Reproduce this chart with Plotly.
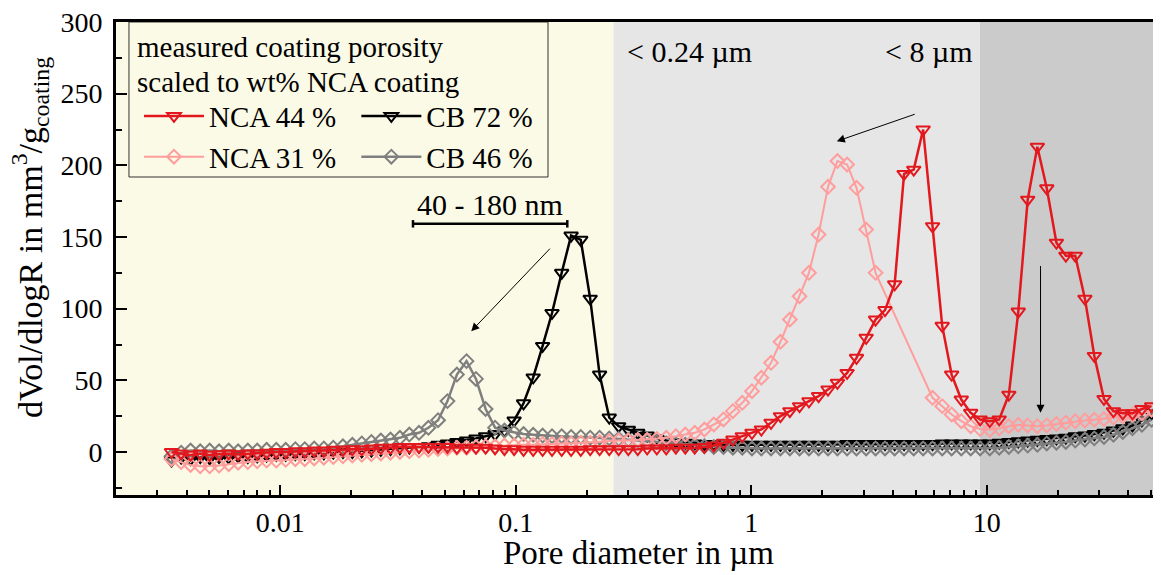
import plotly.graph_objects as go

log_d = [-2.462, -2.421, -2.381, -2.340, -2.300, -2.260, -2.219, -2.179, -2.138, -2.098,
         -2.058, -2.017, -1.977, -1.936, -1.896, -1.856, -1.815, -1.775, -1.734, -1.694,
         -1.654, -1.613, -1.573, -1.532, -1.492, -1.452, -1.411, -1.371, -1.330, -1.290,
         -1.250, -1.209, -1.169, -1.128, -1.088, -1.048, -1.007, -0.967, -0.926, -0.886,
         -0.846, -0.805, -0.765, -0.724, -0.684, -0.644, -0.603, -0.563, -0.522, -0.482,
         -0.442, -0.401, -0.361, -0.320, -0.280, -0.240, -0.199, -0.159, -0.118, -0.078,
         -0.038, 0.003, 0.043, 0.084, 0.124, 0.164, 0.205, 0.245, 0.286, 0.326,
         0.366, 0.407, 0.447, 0.488, 0.528, 0.568, 0.609, 0.649, 0.690, 0.730,
         0.770, 0.811, 0.851, 0.892, 0.932, 0.972, 1.013, 1.053, 1.094, 1.134,
         1.174, 1.215, 1.255, 1.296, 1.336, 1.376, 1.417, 1.457, 1.498, 1.538,
         1.578, 1.619, 1.659, 1.700]
pore_d = [10 ** v for v in log_d]

nca44 = [0, -1, -2, -1, -2, -1.5, -1, -1.5, -1, -1,
         -0.5, 0, 0, 0.5, 0.5, 1, 1, 1.5, 1.5, 2,
         2, 2.5, 3, 3, 3.5, 3.5, 3.5, 3.5, 3.5, 3.5,
         3, 3, 3, 3, 2.5, 2, 2, 1.5, 1.5, 1.5,
         1.5, 1.5, 1.5, 1.5, 2, 2, 2, 2, 2, 2,
         2.5, 2.5, 2.5, 3, 3, 3, 3.5, 4.5, 6.4, 8.7,
         11, 13.4, 15.7, 20.4, 25, 28.5, 32, 35.4, 39, 43.6,
         48.3, 55.2, 65.7, 79.7, 92.4, 99, 117, 194, 197, 225,
         157.5, 88, 54, 36.6, 27.3, 22.7, 21.5, 22.7, 40, 98,
         176, 213, 184, 146, 137, 137, 107, 67, 37, 28.5,
         27, 27, 30, 32]

cb72 = [-6, -4, -5, -3.5, -4.5, -3.5, -4, -3, -3.5, -3,
        -2.5, -2, -2, -1.5, -1.5, -1, -1, -0.5, 0, 0,
        0.5, 1, 1.5, 2, 2.5, 3, 3.5, 4, 5, 6,
        7, 8, 9.5, 11, 12.5, 15, 22, 34, 52, 74,
        97, 125, 151, 148, 107, 54, 24, 18, 15.5, 13.4,
        11.5, 9.5, 8, 7, 6.5, 6, 5.5, 5.5, 5, 5,
        5, 5, 5, 5, 5, 5, 5, 5, 5, 5,
        5, 5.5, 5.5, 5.5, 5.5, 5.5, 5.5, 5.5, 5.5, 5.5,
        5.5, 6, 6, 6, 6, 6, 6, 6.5, 7, 7.5,
        8, 8.5, 9, 9.5, 10, 11, 11.5, 12.5, 13.5, 15,
        16.5, 18.5, 22, 27]

nca31 = [-5, -7, -9, -10, -10, -9.5, -8.5, -7.5, -7, -6.5,
         -6, -6, -5.5, -5, -5, -4.5, -4, -3.5, -3, -2.5,
         -2, -1.5, -1, -0.5, 0, 0.5, 1, 1.5, 2, 2.5,
         3, 3, 3.5, 4, 4, 4.5, 4.5, 5, 5, 5.5,
         5.5, 6, 6, 6.5, 6.5, 7, 7.5, 8, 8, 8.5,
         8.5, 9, 9.9, 11, 12.2, 13.4, 15.7, 19.2, 22.7, 28.5,
         34.3, 42.4, 51.8, 62.2, 76.9, 92.4, 108.7, 125, 151.7, 185,
         203, 200.6, 184.3, 155.2, 125, None, None, None, None, None,
         37.8, 32, 26.2, 21.5, 18, 16, 15.5, 16.5, 18, 19,
         18.5, 18, 18.5, 19.5, 20.5, 21.5, 22, 22.5, 23, 24,
         25, 26, 27, 29.5]

cb46 = [-3, -0.5, 1, 0.5, 1, 0.5, 1, 0.5, 1, 1,
        1.5, 1.5, 1.5, 2, 2, 2.5, 2.5, 3, 4, 5,
        6, 7, 8, 8.7, 9.9, 12.2, 13.4, 16.9, 22.2, 35.5,
        54, 63.4, 51, 30, 17, 15, 13.5, 12.5, 12, 11.5,
        11, 11, 10.5, 10.5, 10, 10, 9.5, 9, 8.5, 8,
        7.5, 7, 6, 5.5, 5, 4.5, 4, 3.5, 3.5, 3,
        3, 2.5, 2.5, 2.5, 2.5, 2.5, 2.5, 2.5, 2.5, 2.5,
        2.5, 2.5, 2.5, 2.5, 2.5, 2.5, 2.5, 2.5, 2.5, 2.5,
        2.5, 2.5, 2.5, 2.5, 2.5, 2.5, 2.5, 3, 3.5, 4,
        4.5, 5, 6, 6.5, 7, 8, 8.7, 9.5, 10.5, 12,
        14, 16.5, 19, 22.5]

# region limits (µm) and annotation anchors
region_limits = [0.26, 9.36]
range_bar = [0.0366, 0.1655, 159.2]

FONT = "Liberation Serif"
RED = "#e3181e"
PINK = "#ff9d9d"
GREY = "#7f7f7f"
CREAM = "#fbfae6"

fig = go.Figure()

def add(name, y, color, symbol, size, lw, legend, rank):
    fig.add_trace(go.Scatter(
        x=pore_d, y=y, name=name, mode="lines+markers", connectgaps=True,
        line=dict(color=color, width=lw),
        marker=dict(symbol=symbol, size=size, color=color, line=dict(color=color, width=2)),
        legend=legend, legendrank=rank))

add("CB 72 %", cb72, "black", "triangle-down-open", 12, 2.5, "legend2", 1)
add("CB 46 %", cb46, GREY, "diamond-open", 10.5, 2.5, "legend2", 2)
add("NCA 31 %", nca31, PINK, "diamond-open", 10.5, 2, "legend", 2)
add("NCA 44 %", nca44, RED, "triangle-down-open", 12, 2.5, "legend", 1)

shapes = [
    dict(type="rect", xref="x", yref="paper", x0=0.001, x1=region_limits[0], y0=0, y1=1,
         fillcolor=CREAM, line=dict(width=0), layer="below"),
    dict(type="rect", xref="x", yref="paper", x0=region_limits[0], x1=region_limits[1], y0=0, y1=1,
         fillcolor="#e6e6e6", line=dict(width=0), layer="below"),
    dict(type="rect", xref="x", yref="paper", x0=region_limits[1], x1=1000, y0=0, y1=1,
         fillcolor="#cbcbcb", line=dict(width=0), layer="below"),
    dict(type="rect", xref="paper", yref="paper", x0=0.0124, x1=0.4134, y0=0.6723, y1=1.0,
         fillcolor=CREAM, line=dict(width=1, color="#333333"), layer="below"),
    dict(type="line", xref="x", yref="y", x0=range_bar[0], x1=range_bar[1], y0=range_bar[2], y1=range_bar[2],
         line=dict(color="black", width=2.5)),
    dict(type="line", xref="x", yref="y", x0=range_bar[0], x1=range_bar[0], y0=range_bar[2] - 2.6, y1=range_bar[2] + 2.6,
         line=dict(color="black", width=2.5)),
    dict(type="line", xref="x", yref="y", x0=range_bar[1], x1=range_bar[1], y0=range_bar[2] - 2.6, y1=range_bar[2] + 2.6,
         line=dict(color="black", width=2.5)),
]

ann_font = dict(family=FONT, size=30, color="black")
leg_font = dict(family=FONT, size=29, color="black")
annotations = [
    dict(xref="paper", yref="paper", x=0.0185, y=0.947, text="measured coating porosity", showarrow=False,
         xanchor="left", yanchor="middle", font=leg_font),
    dict(xref="paper", yref="paper", x=0.0185, y=0.873, text="scaled to wt% NCA coating", showarrow=False,
         xanchor="left", yanchor="middle", font=leg_font),
    dict(xref="paper", yref="paper", x=0.487, y=0.937, text="< 0.24 µm", showarrow=False,
         xanchor="left", yanchor="middle", font=ann_font),
    dict(xref="paper", yref="paper", x=0.734, y=0.937, text="< 8 µm", showarrow=False,
         xanchor="left", yanchor="middle", font=ann_font),
    dict(xref="paper", yref="paper", x=0.358, y=0.615, text="40 - 180 nm", showarrow=False,
         xanchor="center", yanchor="middle", font=ann_font),
    dict(xref="paper", yref="paper", x=0.5, y=-0.1226, text="Pore diameter in µm", showarrow=False,
         xanchor="center", yanchor="middle", font=dict(family=FONT, size=33, color="black")),
    dict(xref="paper", yref="paper", x=-0.0826, y=0.545, textangle=-90,
         text="dVol/dlogR in mm<sup>3</sup>/g<sub>coating</sub>", showarrow=False,
         xanchor="center", yanchor="middle", borderpad=0, font=dict(family=FONT, size=34, color="black")),
    dict(xref="x", yref="y", axref="x", ayref="y", x=-1.189, y=84.3, ax=-0.849, ay=142.9,
         showarrow=True, arrowhead=2, arrowsize=1.6, arrowwidth=1, arrowcolor="black", text="", standoff=0),
    dict(xref="x", yref="y", axref="x", ayref="y", x=0.3635, y=216.8, ax=0.7006, ay=236.0,
         showarrow=True, arrowhead=2, arrowsize=1.6, arrowwidth=1, arrowcolor="black", text="", standoff=0),
    dict(xref="x", yref="y", axref="x", ayref="y", x=1.2285, y=27.3, ax=1.2285, ay=130.8,
         showarrow=True, arrowhead=2, arrowsize=1.6, arrowwidth=1, arrowcolor="black", text="", standoff=0),
]

x_major = [0.01, 0.1, 1, 10]
x_major_text = ["0.01", "0.1", "1", "10"]
x_minor = [m * 10 ** e for e in (-3, -2, -1, 0, 1) for m in range(2, 10) if m * 10 ** e < 60]
y_major = [0, 50, 100, 150, 200, 250, 300]

# page body has an 8 px margin, so the figure is drawn offset by 8 px
fig.update_layout(
    width=1153, height=567,
    margin=dict(l=108, r=0, t=14, b=80),
    paper_bgcolor="white", plot_bgcolor="white",
    font=dict(family=FONT, size=28, color="black"),
    shapes=shapes, annotations=annotations,
    legend=dict(x=0.022, y=0.855, xanchor="left", yanchor="top", bgcolor="rgba(0,0,0,0)",
                borderwidth=0, font=leg_font, itemwidth=60),
    legend2=dict(x=0.23, y=0.855, xanchor="left", yanchor="top", bgcolor="rgba(0,0,0,0)",
                 borderwidth=0, font=leg_font, itemwidth=60),
    xaxis=dict(type="log", range=[-2.6977, 1.7401], tickvals=x_major, ticktext=x_major_text,
               ticks="inside", ticklen=10, tickwidth=2, tickcolor="black",
               minor=dict(tickvals=x_minor, ticks="inside", ticklen=5, tickwidth=2, tickcolor="black"),
               showline=True, linewidth=3, linecolor="black", mirror=True, showgrid=False,
               zeroline=False, automargin=False, ticklabelstandoff=0, ticklabeloverflow="allow",
               tickfont=dict(size=28)),
    yaxis=dict(range=[-30, 300], tickvals=y_major, ticks="inside", ticklen=11, tickwidth=2,
               tickcolor="black",
               minor=dict(dtick=25, tick0=0, ticks="inside", ticklen=6, tickwidth=2, tickcolor="black"),
               showline=True, linewidth=3, linecolor="black", showgrid=False, zeroline=False,
               automargin=False, ticklabelstandoff=5, ticklabeloverflow="allow",
               tickfont=dict(size=28)),
)

fig.write_html("out.html")
